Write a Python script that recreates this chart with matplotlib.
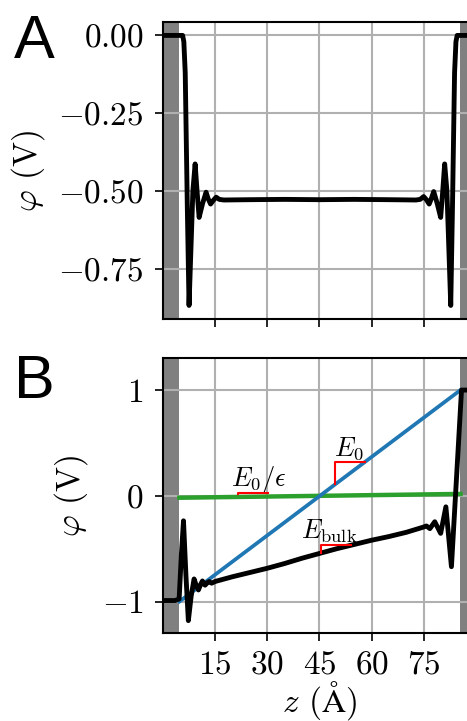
import matplotlib
matplotlib.use('Agg')
import matplotlib.pyplot as plt
import numpy as np
from matplotlib.ticker import MultipleLocator

# electrode regions (Angstrom)
Z_MAX = 90.3
left_wall = (0.0, 4.7)
right_wall = (85.6, 90.3)

# panel A: potential without applied field
z_a = [0.0, 5.65, 6.0, 6.4, 7.0, 7.5, 8.0, 8.6, 9.25, 9.8, 10.4, 11.4, 12.4,
       13.0, 13.7, 14.5, 15.3, 16.2, 17.5, 25.0, 35.0, 45.0, 55.0, 65.0,
       72.8, 74.0, 75.0, 75.8, 76.6, 77.2, 77.9, 78.9, 79.9, 80.5, 81.05,
       81.7, 82.3, 82.8, 83.3, 83.9, 84.3, 84.65, 90.3]
phi_a = [0.0, 0.0, -0.02, -0.12, -0.55, -0.868, -0.70, -0.50, -0.413, -0.50,
         -0.585, -0.54, -0.504, -0.525, -0.542, -0.53, -0.52, -0.527, -0.529,
         -0.528, -0.527, -0.528, -0.527, -0.528, -0.529, -0.527, -0.518,
         -0.528, -0.542, -0.525, -0.502, -0.54, -0.585, -0.50, -0.413, -0.50,
         -0.70, -0.868, -0.55, -0.12, -0.02, 0.0, 0.0]

# panel B: potential with applied field
z_b = [0.0, 3.5, 4.65, 5.3, 5.9, 6.6, 7.3, 8.1, 8.95, 9.6, 10.2, 10.8, 11.35,
       12.1, 12.8, 13.3, 14.0, 15.0, 20.0, 25.0, 30.0, 35.0, 40.0, 45.0, 50.0,
       55.0, 60.0, 65.0, 70.0, 75.0, 75.8, 76.8, 78.2, 79.9, 81.4, 83.0, 85.9,
       90.3]
phi_b = [-0.99, -0.99, -0.975, -0.55, -0.236, -0.75, -1.18, -0.95, -0.786,
         -0.85, -0.89, -0.84, -0.805, -0.845, -0.82, -0.81, -0.826, -0.81,
         -0.765, -0.725, -0.685, -0.64, -0.59, -0.545, -0.50, -0.46, -0.42,
         -0.385, -0.345, -0.295, -0.285, -0.31, -0.245, -0.355, -0.104, -0.67,
         1.0, 1.0]

z_lin = [4.7, 85.6]
phi_vacuum = [-1.0, 1.0]
phi_diel = [-0.018, 0.018]

# slope markers: start z, step, y offset, label, label position
slope_x0 = [21.5, 49.5, 45.5]
slope_dx = 8.6
slope_dy = [0.03, 0.0, 0.0]
slope_labels = [r'$E_0/\epsilon$', r'$E_0$', r'$E_{\rm bulk}$']
label_pos = [(27.6, 0.095), (53.5, 0.384), (47.8, -0.402)]

plt.rcParams.update({
    'font.family': 'serif',
    'font.serif': ['cmr10'],
    'mathtext.fontset': 'cm',
    'axes.formatter.use_mathtext': True,
    'font.size': 24,
    'axes.linewidth': 1.5,
    'grid.color': '#b0b0b0',
    'grid.linewidth': 1.5,
})

fig = plt.figure(figsize=(4.67, 7.21), dpi=100)
ax_a = fig.add_axes([0.349, 0.5576, 0.672, 0.412])
ax_b = fig.add_axes([0.349, 0.1216, 0.672, 0.3814])

for ax in (ax_a, ax_b):
    ax.axvspan(*left_wall, color='gray', lw=0)
    ax.axvspan(*right_wall, color='gray', lw=0)
    ax.set_xlim(0, Z_MAX)
    ax.xaxis.set_major_locator(MultipleLocator(15))
    ax.grid(True)
    ax.tick_params(direction='out', length=6, width=1.2, pad=8)
    ax.tick_params(axis='x', pad=6)
    ax.set_ylabel(r'$\varphi$ (V)', labelpad=8)

ax_a.plot(z_a, phi_a, color='black', lw=3.5)
ax_a.set_yticks([0.0, -0.25, -0.5, -0.75])
ax_a.set_xticks([15, 30, 45, 60, 75])
ax_a.tick_params(labelbottom=False)

ax_b.plot(z_lin, phi_diel, color='tab:green', lw=3.2)
ax_b.plot(z_lin, phi_vacuum, color='tab:blue', lw=2.7)
ax_b.plot(z_b, phi_b, color='black', lw=3.5)
ax_b.set_ylim(-1.3, 1.3)
ax_b.set_yticks([-1, 0, 1])
ax_b.set_xticks([15, 30, 45, 60, 75])
ax_b.set_xlabel(r'$z$ ($\mathrm{\AA}$)', labelpad=0)

# red slope triangles on the three lines
curves = [(z_lin, phi_diel), (z_lin, phi_vacuum), (z_b, phi_b)]
for (zc, pc), x0, dy, lab, (tx, ty) in zip(curves, slope_x0, slope_dy,
                                         slope_labels, label_pos):
    y0 = np.interp(x0, zc, pc) + dy
    y1 = np.interp(x0 + slope_dx, zc, pc) + dy
    ax_b.plot([x0, x0, x0 + slope_dx], [y0, y1, y1], color='red', lw=1.5,
              zorder=4)
    ax_b.text(tx, ty, lab, fontsize=19, ha='center', va='baseline')

fig.text(0.03, 0.9191, 'A', fontsize=44, family='Liberation Sans')
fig.text(0.03, 0.4476, 'B', fontsize=44, family='Liberation Sans')

fig.savefig('out.png', dpi=100)
